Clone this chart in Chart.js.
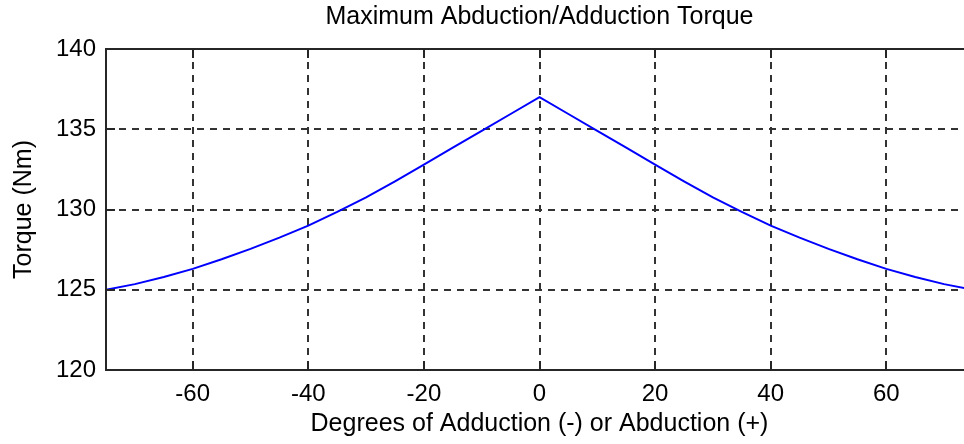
<!DOCTYPE html>
<html>
<head>
    <meta charset="UTF-8">
    <title>Maximum Abduction/Adduction Torque</title>
    <script src="https://cdn.jsdelivr.net/npm/chart.js"></script>
</head>

<style>
    body {
        margin: 0;
        background: #fff;
    }
    #box {
        width: 964px;
        height: 444px;
        overflow: hidden;
    }
</style>

<body>
    <div id="box">
        <canvas id="torqueChart" width="980" height="444"></canvas>
    </div>
</body>

<script>
    // values (5 degree steps)
    const degrees = [-75, -70, -65, -60, -55, -50, -45, -40, -35, -30, -25, -20, -15, -10, -5, 0,
                     5, 10, 15, 20, 25, 30, 35, 40, 45, 50, 55, 60, 65, 70, 75];
    const torque = [125.0, 125.35, 125.8, 126.3, 126.9, 127.55, 128.25, 129.0, 129.85, 130.75, 131.75, 132.8, 133.85, 134.9, 135.95, 137.0,
                    135.95, 134.9, 133.85, 132.8, 131.75, 130.75, 129.85, 129.0, 128.25, 127.55, 126.9, 126.3, 125.8, 125.35, 125.0];
    const xTicks = [-60, -40, -20, 0, 20, 40, 60];
    const yTicks = [120, 125, 130, 135, 140];

    const fontFamily = '"Liberation Sans", Arial, sans-serif';
    const gridStyle = {
        color: '#333',
        lineWidth: 2,
        drawTicks: false
    };
    // in chart.js v4 the grid dash lives on the border options
    const gridBorder = {
        display: false,
        dash: [7, 6]
    };

    // matlab style box round the axes, with the small ticks pointing inwards
    const axesBox = {
        id: 'axesBox',
        afterDraw(chart) {
            const { ctx, chartArea: a, scales } = chart;
            const len = 9;
            ctx.save();
            ctx.setLineDash([]);
            ctx.strokeStyle = '#262626';
            ctx.lineWidth = 2;
            ctx.strokeRect(a.left, a.top, a.right - a.left, a.bottom - a.top);
            ctx.beginPath();
            xTicks.forEach(v => {
                const px = Math.round(scales.x.getPixelForValue(v));
                ctx.moveTo(px, a.bottom);
                ctx.lineTo(px, a.bottom - len);
                ctx.moveTo(px, a.top);
                ctx.lineTo(px, a.top + len);
            });
            yTicks.forEach(v => {
                const py = Math.round(scales.y.getPixelForValue(v));
                ctx.moveTo(a.left, py);
                ctx.lineTo(a.left + len, py);
                ctx.moveTo(a.right, py);
                ctx.lineTo(a.right - len, py);
            });
            ctx.stroke();
            ctx.restore();
        }
    };

    const chartCanvas = document.getElementById('torqueChart');

    new Chart(chartCanvas, {
        type: 'line',
        data: {
            datasets: [{
                label: 'Torque',
                data: degrees.map((d, i) => ({ x: d, y: torque[i] })),
                borderColor: '#0000ff',
                borderWidth: 2,
                pointRadius: 0,
                tension: 0,
                fill: false
            }]
        },
        options: {
            responsive: false,
            devicePixelRatio: 1,
            animation: false,
            layout: {
                padding: { right: 7 }
            },
            scales: {
                x: {
                    type: 'linear',
                    min: -75,
                    max: 75,
                    afterBuildTicks: scale => {
                        scale.ticks = xTicks.map(v => ({ value: v }));
                    },
                    afterFit: scale => {
                        scale.height = 74;
                    },
                    grid: gridStyle,
                    border: gridBorder,
                    ticks: {
                        color: '#000',
                        padding: 10,
                        maxRotation: 0,
                        font: { family: fontFamily, size: 24 }
                    },
                    title: {
                        display: true,
                        text: 'Degrees of Adduction (-) or Abduction (+)',
                        color: '#000',
                        padding: { top: 0, bottom: 5 },
                        font: { family: fontFamily, size: 25 }
                    }
                },
                y: {
                    min: 120,
                    max: 140,
                    afterBuildTicks: scale => {
                        scale.ticks = yTicks.map(v => ({ value: v }));
                    },
                    afterFit: scale => {
                        scale.width = 106;
                    },
                    grid: gridStyle,
                    border: gridBorder,
                    ticks: {
                        color: '#000',
                        padding: 10,
                        font: { family: fontFamily, size: 24 }
                    },
                    title: {
                        display: true,
                        text: 'Torque (Nm)',
                        color: '#000',
                        padding: { top: 9, bottom: 0 },
                        font: { family: fontFamily, size: 25 }
                    }
                }
            },
            plugins: {
                legend: { display: false },
                tooltip: { enabled: false },
                title: {
                    display: true,
                    fullSize: false,
                    text: 'Maximum Abduction/Adduction Torque',
                    color: '#000',
                    padding: { top: 2.5, bottom: 16.5 },
                    font: { family: fontFamily, size: 25, weight: 'normal' }
                }
            }
        },
        plugins: [axesBox]
    });
</script>
</html>
